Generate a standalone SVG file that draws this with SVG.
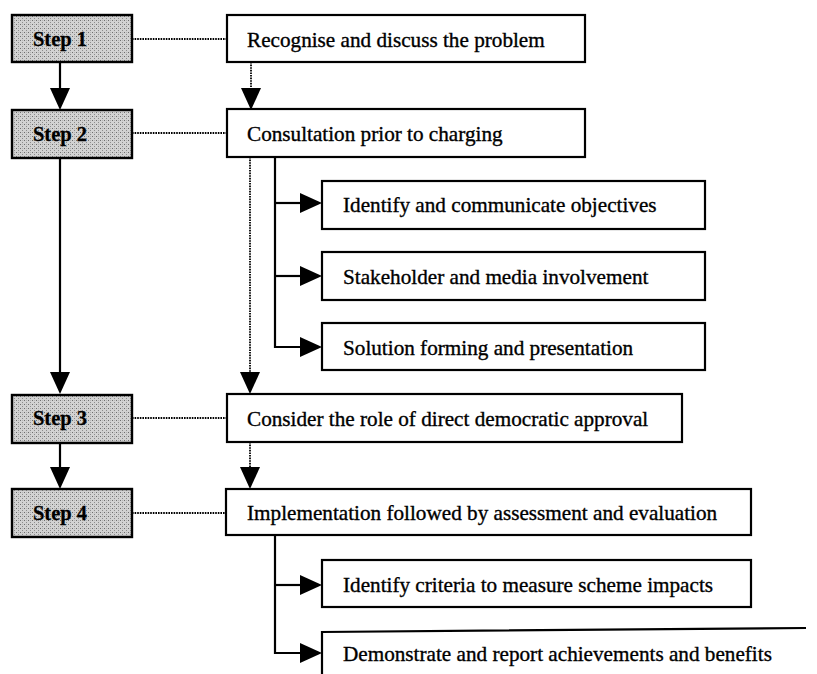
<svg xmlns="http://www.w3.org/2000/svg" width="817" height="674" viewBox="0 0 817 674">
  <defs>
    <!-- stippled grey fill for the step boxes -->
    <pattern id="stipple" width="4" height="4" patternUnits="userSpaceOnUse">
      <rect width="4" height="4" fill="#d2d2d2"/>
      <rect x="0" y="0" width="1" height="1" fill="#6e6e6e"/>
      <rect x="2" y="2" width="1" height="1" fill="#8c8c8c"/>
      <rect x="2" y="0" width="1" height="1" fill="#b4b4b4"/>
    </pattern>
  </defs>
  <style>
    .step { fill: url(#stipple); stroke: #000; stroke-width: 2.4; }
    .box { fill: #fff; stroke: #000; stroke-width: 2.2; }
    .steptxt { font-family: "Liberation Serif", "Times New Roman", serif; font-weight: bold; font-size: 20.5px; fill: #000; stroke: #000; stroke-width: 0.3; text-anchor: middle; }
    .txt { font-family: "Liberation Serif", "Times New Roman", serif; font-size: 21.2px; fill: #000; stroke: #000; stroke-width: 0.35; }
    .solid { stroke: #000; stroke-width: 2.2; fill: none; }
    .dotted { stroke: #000; stroke-width: 1.8; stroke-dasharray: 1.6 1; fill: none; }
    .head { fill: #000; stroke: none; }
  </style>

  <rect width="817" height="674" fill="#fff"/>

  <!-- connectors -->
  <g id="connectors">
    <!-- step chain -->
    <line class="solid" x1="60" y1="62" x2="60" y2="90"/>
    <polygon class="head" points="50,88 70,88 60,110"/>
    <line class="solid" x1="60" y1="158" x2="60" y2="374"/>
    <polygon class="head" points="50,372 70,372 60,394"/>
    <line class="solid" x1="60" y1="443" x2="60" y2="469"/>
    <polygon class="head" points="50,467 70,467 60,489"/>

    <!-- step to task links -->
    <line class="dotted" x1="132" y1="39" x2="227" y2="39"/>
    <line class="dotted" x1="132" y1="133" x2="227" y2="133"/>
    <line class="dotted" x1="132" y1="418" x2="227" y2="418"/>
    <line class="dotted" x1="132" y1="513" x2="226" y2="513"/>

    <!-- task sequence -->
    <line class="dotted" x1="251" y1="62" x2="251" y2="90"/>
    <polygon class="head" points="241,88 261,88 251,110"/>
    <line class="dotted" x1="250" y1="157" x2="250" y2="374"/>
    <polygon class="head" points="240,372 260,372 250,394"/>
    <line class="dotted" x1="250" y1="442" x2="250" y2="469"/>
    <polygon class="head" points="240,467 260,467 250,489"/>

    <!-- consultation branches -->
    <polyline class="solid" points="275,157 275,347 302,347"/>
    <line class="solid" x1="275" y1="203" x2="302" y2="203"/>
    <line class="solid" x1="275" y1="276" x2="302" y2="276"/>
    <polygon class="head" points="300,193 322,203 300,213"/>
    <polygon class="head" points="300,266 322,276 300,286"/>
    <polygon class="head" points="300,337 322,347 300,357"/>

    <!-- implementation branches -->
    <polyline class="solid" points="275,535 275,653 302,653"/>
    <line class="solid" x1="275" y1="585" x2="302" y2="585"/>
    <polygon class="head" points="300,575 322,585 300,595"/>
    <polygon class="head" points="300,643 322,653 300,663"/>
  </g>

  <!-- step column -->
  <g id="step1">
    <rect class="step" x="12" y="15" width="120" height="47"/>
    <text class="steptxt" x="60" y="46">Step 1</text>
  </g>
  <g id="step2">
    <rect class="step" x="12" y="110" width="120" height="48"/>
    <text class="steptxt" x="60" y="141">Step 2</text>
  </g>
  <g id="step3">
    <rect class="step" x="12" y="395" width="120" height="48"/>
    <text class="steptxt" x="60" y="425">Step 3</text>
  </g>
  <g id="step4">
    <rect class="step" x="12" y="489" width="120" height="48"/>
    <text class="steptxt" x="60" y="520">Step 4</text>
  </g>

  <!-- task column -->
  <g id="recognise">
    <rect class="box" x="227" y="15" width="358" height="47"/>
    <text class="txt" x="247" y="47">Recognise and discuss the problem</text>
  </g>
  <g id="consultation">
    <rect class="box" x="227" y="109" width="358" height="48"/>
    <text class="txt" x="247" y="141">Consultation prior to charging</text>
  </g>
  <g id="objectives">
    <rect class="box" x="322" y="181" width="383" height="48"/>
    <text class="txt" x="343" y="212">Identify and communicate objectives</text>
  </g>
  <g id="stakeholder">
    <rect class="box" x="322" y="252" width="383" height="48"/>
    <text class="txt" x="343" y="284">Stakeholder and media involvement</text>
  </g>
  <g id="solution">
    <rect class="box" x="322" y="323" width="383" height="47"/>
    <text class="txt" x="343" y="355">Solution forming and presentation</text>
  </g>
  <g id="approval">
    <rect class="box" x="227" y="394" width="455" height="48"/>
    <text class="txt" x="247" y="426">Consider the role of direct democratic approval</text>
  </g>
  <g id="implementation">
    <rect class="box" x="226" y="489" width="525" height="46"/>
    <text class="txt" x="247" y="520">Implementation followed by assessment and evaluation</text>
  </g>
  <g id="criteria">
    <rect class="box" x="322" y="560" width="429" height="47"/>
    <text class="txt" x="343" y="592">Identify criteria to measure scheme impacts</text>
  </g>
  <g id="demonstrate">
    <polyline class="box" fill="none" points="322,674 322,632 806,628"/>
    <text class="txt" x="343" y="661">Demonstrate and report achievements and benefits</text>
  </g>
</svg>
